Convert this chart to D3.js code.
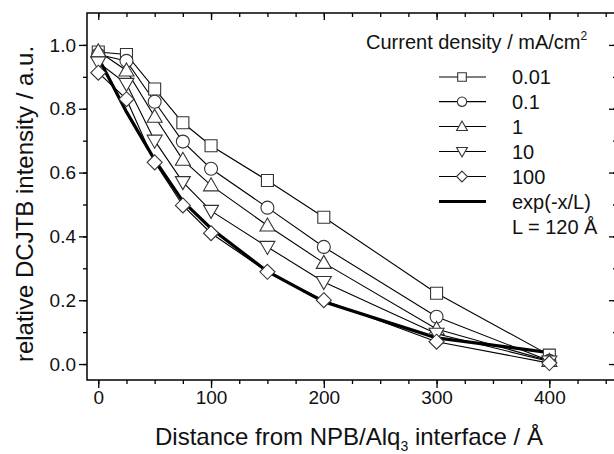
<!DOCTYPE html>
<html><head><meta charset="utf-8">
<script src="https://cdn.jsdelivr.net/npm/d3@7/dist/d3.min.js"></script>
<style>body{margin:0;background:#fff}svg{display:block;font-family:"Liberation Sans",Arial,sans-serif}</style>
</head><body><svg id="c" width="614" height="454"></svg>
<script>
const distances = [0, 25, 50, 75, 100, 150, 200, 300, 400];
const seriesNames = ["0.01", "0.1", "1", "10", "100"];
const s001 = [0.978, 0.97, 0.862, 0.756, 0.684, 0.575, 0.46, 0.222, 0.028];
const s01  = [0.97, 0.95, 0.822, 0.697, 0.612, 0.49, 0.367, 0.148, 0.01];
const s1   = [0.98, 0.92, 0.775, 0.64, 0.56, 0.434, 0.317, 0.11, 0.01];
const s10  = [0.945, 0.878, 0.70, 0.57, 0.48, 0.367, 0.257, 0.095, 0.008];
const s100 = [0.913, 0.83, 0.632, 0.497, 0.41, 0.289, 0.20, 0.07, 0.003];
const expFit = [0.96, 0.79, 0.64, 0.51, 0.425, 0.29, 0.195, 0.082, 0.036];
const xTicks = [0, 100, 200, 300, 400];
const yTicks = [0.0, 0.2, 0.4, 0.6, 0.8, 1.0];
const symbols = ["square", "circle", "triangle", "triangleDown", "diamond"];

const FONT = "Liberation Sans, Arial, sans-serif";
const svg = d3.select("#c");
const L = 87, R = 617, T = 13, B = 380;
const x = d3.scaleLinear().domain([-10, 460]).range([L, R]);
const y = d3.scaleLinear().domain([-0.05, 1.1]).range([B, T]);

const xMinor = d3.range(0, 451, 25);
const yMinor = d3.range(0, 1.01, 0.1);
function clean(g) { g.select(".domain").remove(); g.selectAll("line").attr("stroke-width", 1.3).attr("stroke", "#000"); }
svg.append("g").attr("transform", `translate(0,${B})`)
  .call(d3.axisBottom(x).tickValues(xMinor).tickSize(4).tickFormat("")).call(clean);
svg.append("g").attr("transform", `translate(0,${B})`)
  .call(d3.axisBottom(x).tickValues(xTicks).tickSize(8).tickPadding(4).tickFormat(d3.format("d")))
  .call(clean)
  .call(g => g.selectAll("text").attr("font-size", 19).attr("fill", "#111").attr("font-family", FONT)
    .attr("dy", null).attr("y", 24));
svg.append("g").attr("transform", `translate(0,${T})`)
  .call(d3.axisBottom(x).tickValues(xMinor).tickSize(4).tickFormat("")).call(clean);
svg.append("g").attr("transform", `translate(0,${T})`)
  .call(d3.axisBottom(x).tickValues(xTicks).tickSize(7).tickFormat("")).call(clean);
svg.append("g").attr("transform", `translate(${L},0)`)
  .call(d3.axisLeft(y).tickValues(yMinor).tickSize(4).tickFormat("")).call(clean);
svg.append("g").attr("transform", `translate(${L},0)`)
  .call(d3.axisLeft(y).tickValues(yTicks).tickSize(8).tickPadding(3).tickFormat(d3.format(".1f")))
  .call(clean)
  .call(g => g.selectAll("text").attr("font-size", 19).attr("fill", "#111").attr("font-family", FONT)
    .attr("x", -11));
svg.append("g").attr("transform", `translate(${R},0)`)
  .call(d3.axisRight(y).tickValues(yMinor).tickSize(-4).tickFormat("")).call(clean);
svg.append("g").attr("transform", `translate(${R},0)`)
  .call(d3.axisRight(y).tickValues(yTicks).tickSize(-8).tickFormat("")).call(clean);
svg.append("rect").attr("x", L).attr("y", T).attr("width", R - L).attr("height", B - T)
  .attr("fill", "none").attr("stroke", "#000").attr("stroke-width", 1.5);

const allSeries = [s001, s01, s1, s10, s100];
const line = d3.line().x((d, i) => x(distances[i])).y(d => y(d));
function symPath(name, s) {
  if (name === "square") return `M${-6*s},${-6*s}h${12*s}v${12*s}h${-12*s}Z`;
  if (name === "circle") return d3.arc()({innerRadius: 0, outerRadius: 6.5*s, startAngle: 0, endAngle: 2*Math.PI});
  if (name === "triangle") return `M0,${-7.5*s}L${7.5*s},${5.5*s}L${-7.5*s},${5.5*s}Z`;
  if (name === "triangleDown") return `M0,${7.5*s}L${7.5*s},${-5.5*s}L${-7.5*s},${-5.5*s}Z`;
  return `M0,${-7.5*s}L${7.5*s},0L0,${7.5*s}L${-7.5*s},0Z`;
}
function drawSym(g, name, cx, cy, s) {
  g.append("path").attr("d", symPath(name, s))
    .attr("transform", `translate(${cx},${cy})`)
    .attr("fill", "#fff").attr("stroke", "#333").attr("stroke-width", 1.1);
}
allSeries.forEach((s) => {
  svg.append("path").datum(s).attr("d", line).attr("fill", "none").attr("stroke", "#000").attr("stroke-width", 1.1);
});
svg.append("path").datum(expFit).attr("d", line).attr("fill", "none").attr("stroke", "#000").attr("stroke-width", 3.2);
allSeries.forEach((s, k) => {
  const g = svg.append("g");
  s.forEach((v, i) => drawSym(g, symbols[k], x(distances[i]), y(v), 1));
});

// legend
const lg = svg.append("g").attr("font-size", 20).attr("fill", "#111").attr("font-family", FONT);
const title = lg.append("text").attr("x", 366).attr("y", 49);
title.append("tspan").text("Current density / mA/cm");
title.append("tspan").text("2").attr("font-size", 12).attr("dy", -9);
const rows = [77, 101.7, 126.5, 151.5, 176.5];
seriesNames.forEach((n, k) => {
  lg.append("line").attr("x1", 439).attr("x2", 486).attr("y1", rows[k]).attr("y2", rows[k])
    .attr("stroke", "#000").attr("stroke-width", 1.2);
  drawSym(lg, symbols[k], 462, rows[k], 0.72);
  lg.append("text").attr("x", 512).attr("y", rows[k] + 7).text(n);
});
lg.append("line").attr("x1", 439).attr("x2", 486).attr("y1", 201.5).attr("y2", 201.5)
  .attr("stroke", "#000").attr("stroke-width", 3.2);
lg.append("text").attr("x", 512).attr("y", 208.5).text("exp(-x/L)");
lg.append("text").attr("x", 512).attr("y", 233.5).text("L = 120 Å");

// axis titles
const xl = svg.append("text").attr("x", 349).attr("y", 445).attr("text-anchor", "middle")
  .attr("font-size", 24).attr("fill", "#111").attr("font-family", FONT);
xl.append("tspan").text("Distance from NPB/Alq");
xl.append("tspan").text("3").attr("font-size", 14).attr("dy", 6);
xl.append("tspan").text(" interface / Å").attr("dy", -6);
svg.append("text").attr("transform", "translate(33,204) rotate(-90)").attr("text-anchor", "middle")
  .attr("font-size", 24).attr("fill", "#111").attr("font-family", FONT).text("relative DCJTB intensity / a.u.");
</script></body></html>
